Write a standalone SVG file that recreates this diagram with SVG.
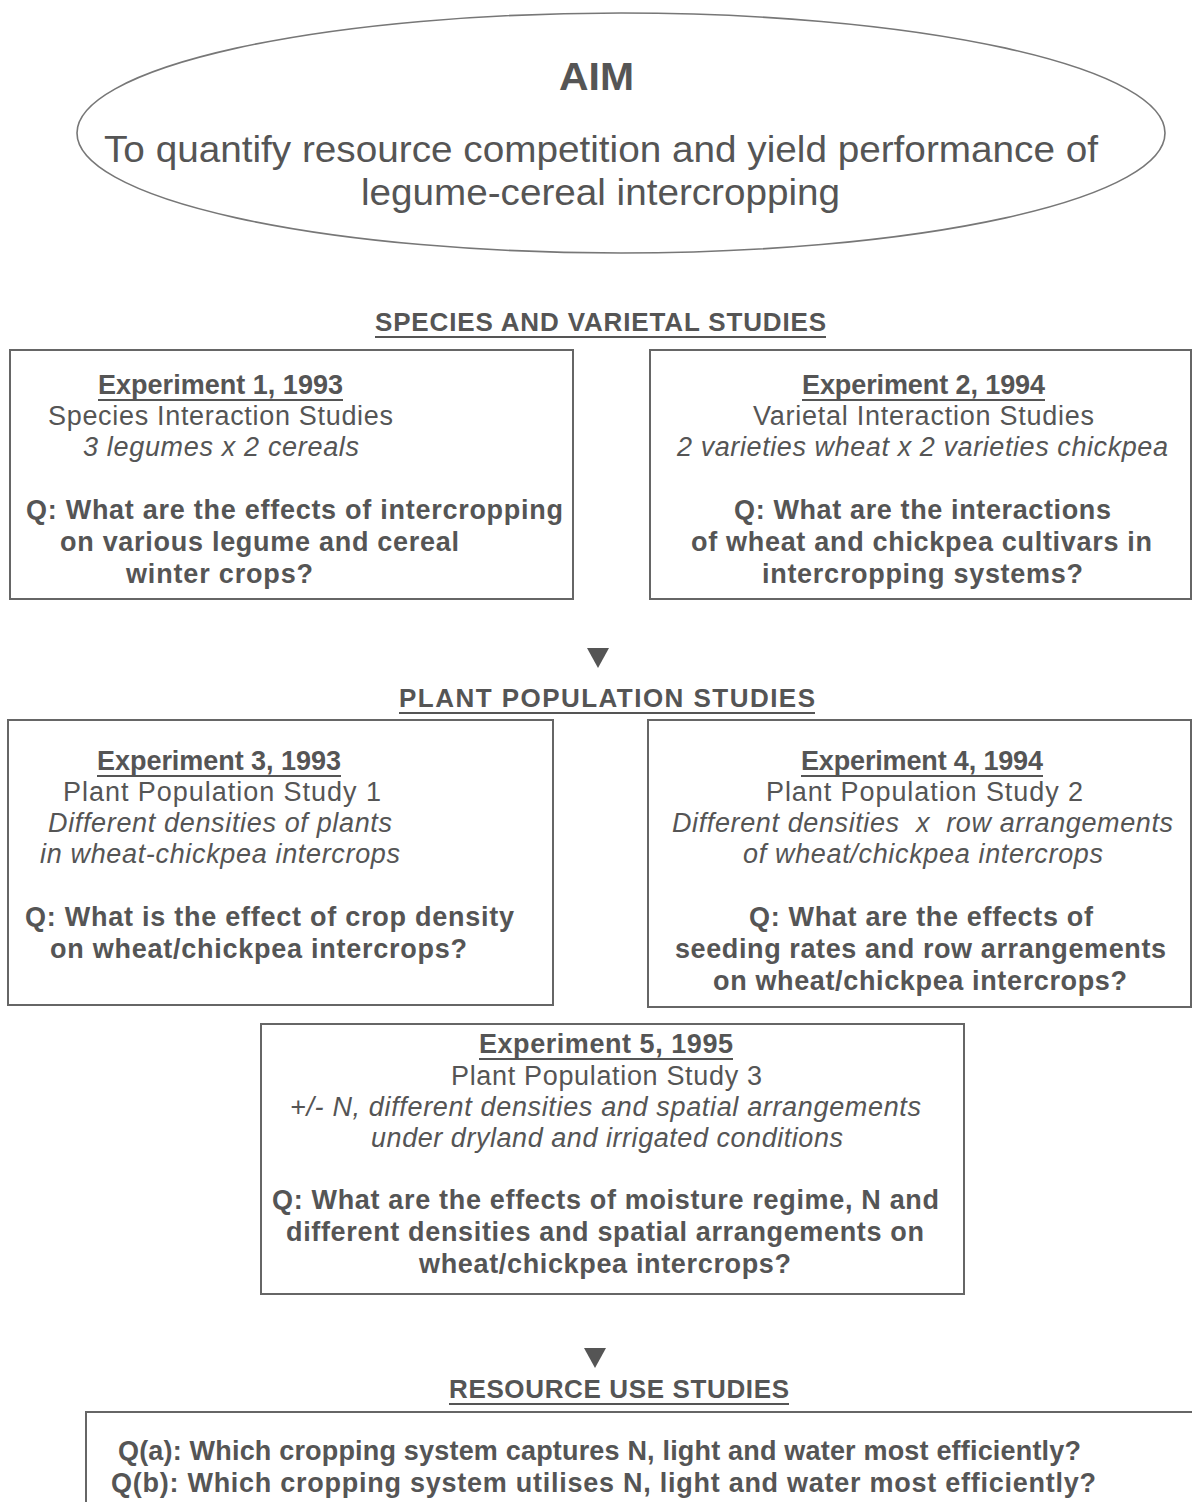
<svg xmlns="http://www.w3.org/2000/svg" width="1192" height="1502" viewBox="0 0 1192 1502">
<style>
text{font-family:"Liberation Sans",Arial,sans-serif;fill:#555;font-size:27px}
.b{font-weight:bold}
.i{font-style:italic}
.h{font-size:26px}
.big{font-size:36px}
.aim{font-size:39px}
.ul{stroke:#555;stroke-width:2}
.box{fill:#fff;stroke:#666;stroke-width:2}
.ell{fill:none;stroke:#777;stroke-width:1.6}
.arr{fill:#555}
</style>
<rect width="1192" height="1502" fill="#fff"/>
<g id="aim">
<ellipse class="ell" cx="621" cy="133" rx="544" ry="120"/>
<text class="b aim" x="559" y="90" textLength="75" lengthAdjust="spacingAndGlyphs">AIM</text>
<text class="big" x="104" y="162" textLength="994" lengthAdjust="spacingAndGlyphs">To quantify resource competition and yield performance of</text>
<text class="big" x="361" y="205" textLength="479" lengthAdjust="spacingAndGlyphs">legume-cereal intercropping</text>
</g>
<g id="heading-species">
<text class="b h" x="375" y="331" textLength="451" lengthAdjust="spacing">SPECIES AND VARIETAL STUDIES</text>
<line class="ul" x1="375" y1="337" x2="826" y2="337"/>
</g>
<g id="exp1">
<rect class="box" x="10" y="350" width="563" height="249"/>
<text class="b" x="98" y="394" textLength="245" lengthAdjust="spacing">Experiment 1, 1993</text>
<line class="ul" x1="98" y1="400" x2="343" y2="400"/>
<text x="48" y="425" textLength="345" lengthAdjust="spacing">Species Interaction Studies</text>
<text class="i" x="83" y="456" textLength="276" lengthAdjust="spacing">3 legumes x 2 cereals</text>
<text class="b" x="26" y="519" textLength="537" lengthAdjust="spacing">Q: What are the effects of intercropping</text>
<text class="b" x="60" y="551" textLength="399" lengthAdjust="spacing">on various legume and cereal</text>
<text class="b" x="126" y="583" textLength="187" lengthAdjust="spacing">winter crops?</text>
</g>
<g id="exp2">
<rect class="box" x="650" y="350" width="541" height="249"/>
<text class="b" x="802" y="394" textLength="243" lengthAdjust="spacing">Experiment 2, 1994</text>
<line class="ul" x1="802" y1="400" x2="1045" y2="400"/>
<text x="753" y="425" textLength="341" lengthAdjust="spacing">Varietal Interaction Studies</text>
<text class="i" x="677" y="456" textLength="491" lengthAdjust="spacing">2 varieties wheat x 2 varieties chickpea</text>
<text class="b" x="734" y="519" textLength="377" lengthAdjust="spacing">Q: What are the interactions</text>
<text class="b" x="691" y="551" textLength="461" lengthAdjust="spacing">of wheat and chickpea cultivars in</text>
<text class="b" x="762" y="583" textLength="321" lengthAdjust="spacing">intercropping systems?</text>
</g>
<g id="heading-population">
<text class="b h" x="399" y="707" textLength="416" lengthAdjust="spacing">PLANT POPULATION STUDIES</text>
<line class="ul" x1="399" y1="713" x2="815" y2="713"/>
</g>
<g id="exp3">
<rect class="box" x="8" y="720" width="545" height="285"/>
<text class="b" x="97" y="770" textLength="244" lengthAdjust="spacing">Experiment 3, 1993</text>
<line class="ul" x1="97" y1="776" x2="341" y2="776"/>
<text x="63" y="801" textLength="318" lengthAdjust="spacing">Plant Population Study 1</text>
<text class="i" x="48" y="832" textLength="344" lengthAdjust="spacing">Different densities of plants</text>
<text class="i" x="40" y="863" textLength="360" lengthAdjust="spacing">in wheat-chickpea intercrops</text>
<text class="b" x="25" y="926" textLength="489" lengthAdjust="spacing">Q: What is the effect of crop density</text>
<text class="b" x="50" y="958" textLength="417" lengthAdjust="spacing">on wheat/chickpea intercrops?</text>
</g>
<g id="exp4">
<rect class="box" x="648" y="720" width="543" height="287"/>
<text class="b" x="801" y="770" textLength="242" lengthAdjust="spacing">Experiment 4, 1994</text>
<line class="ul" x1="801" y1="776" x2="1043" y2="776"/>
<text x="766" y="801" textLength="317" lengthAdjust="spacing">Plant Population Study 2</text>
<text class="i" x="672" y="832" textLength="501" lengthAdjust="spacing" xml:space="preserve">Different densities  x  row arrangements</text>
<text class="i" x="743" y="863" textLength="360" lengthAdjust="spacing">of wheat/chickpea intercrops</text>
<text class="b" x="749" y="926" textLength="344" lengthAdjust="spacing">Q: What are the effects of</text>
<text class="b" x="675" y="958" textLength="491" lengthAdjust="spacing">seeding rates and row arrangements</text>
<text class="b" x="713" y="990" textLength="414" lengthAdjust="spacing">on wheat/chickpea intercrops?</text>
</g>
<g id="exp5">
<rect class="box" x="261" y="1024" width="703" height="270"/>
<text class="b" x="479" y="1053" textLength="254" lengthAdjust="spacing">Experiment 5, 1995</text>
<line class="ul" x1="479" y1="1059" x2="733" y2="1059"/>
<text x="451" y="1085" textLength="311" lengthAdjust="spacing">Plant Population Study 3</text>
<text class="i" x="290" y="1116" textLength="631" lengthAdjust="spacing">+/- N, different densities and spatial arrangements</text>
<text class="i" x="371" y="1147" textLength="472" lengthAdjust="spacing">under dryland and irrigated conditions</text>
<text class="b" x="272" y="1209" textLength="667" lengthAdjust="spacing">Q: What are the effects of moisture regime, N and</text>
<text class="b" x="286" y="1241" textLength="638" lengthAdjust="spacing">different densities and spatial arrangements on</text>
<text class="b" x="419" y="1273" textLength="372" lengthAdjust="spacing">wheat/chickpea intercrops?</text>
</g>
<g id="heading-resource">
<text class="b h" x="449" y="1398" textLength="340" lengthAdjust="spacing">RESOURCE USE STUDIES</text>
<line class="ul" x1="449" y1="1404" x2="789" y2="1404"/>
</g>
<g id="resource">
<rect class="box" x="86" y="1412" width="1120" height="120"/>
<text class="b" x="118" y="1460" textLength="963" lengthAdjust="spacing">Q(a): Which cropping system captures N, light and water most efficiently?</text>
<text class="b" x="111" y="1492" textLength="985" lengthAdjust="spacing">Q(b): Which cropping system utilises N, light and water most efficiently?</text>
</g>
<g id="connectors">
<path class="arr" d="M587,648 L609,648 L598,668 Z"/>
<path class="arr" d="M584,1348 L606,1348 L595,1368 Z"/>
</g>
</svg>
